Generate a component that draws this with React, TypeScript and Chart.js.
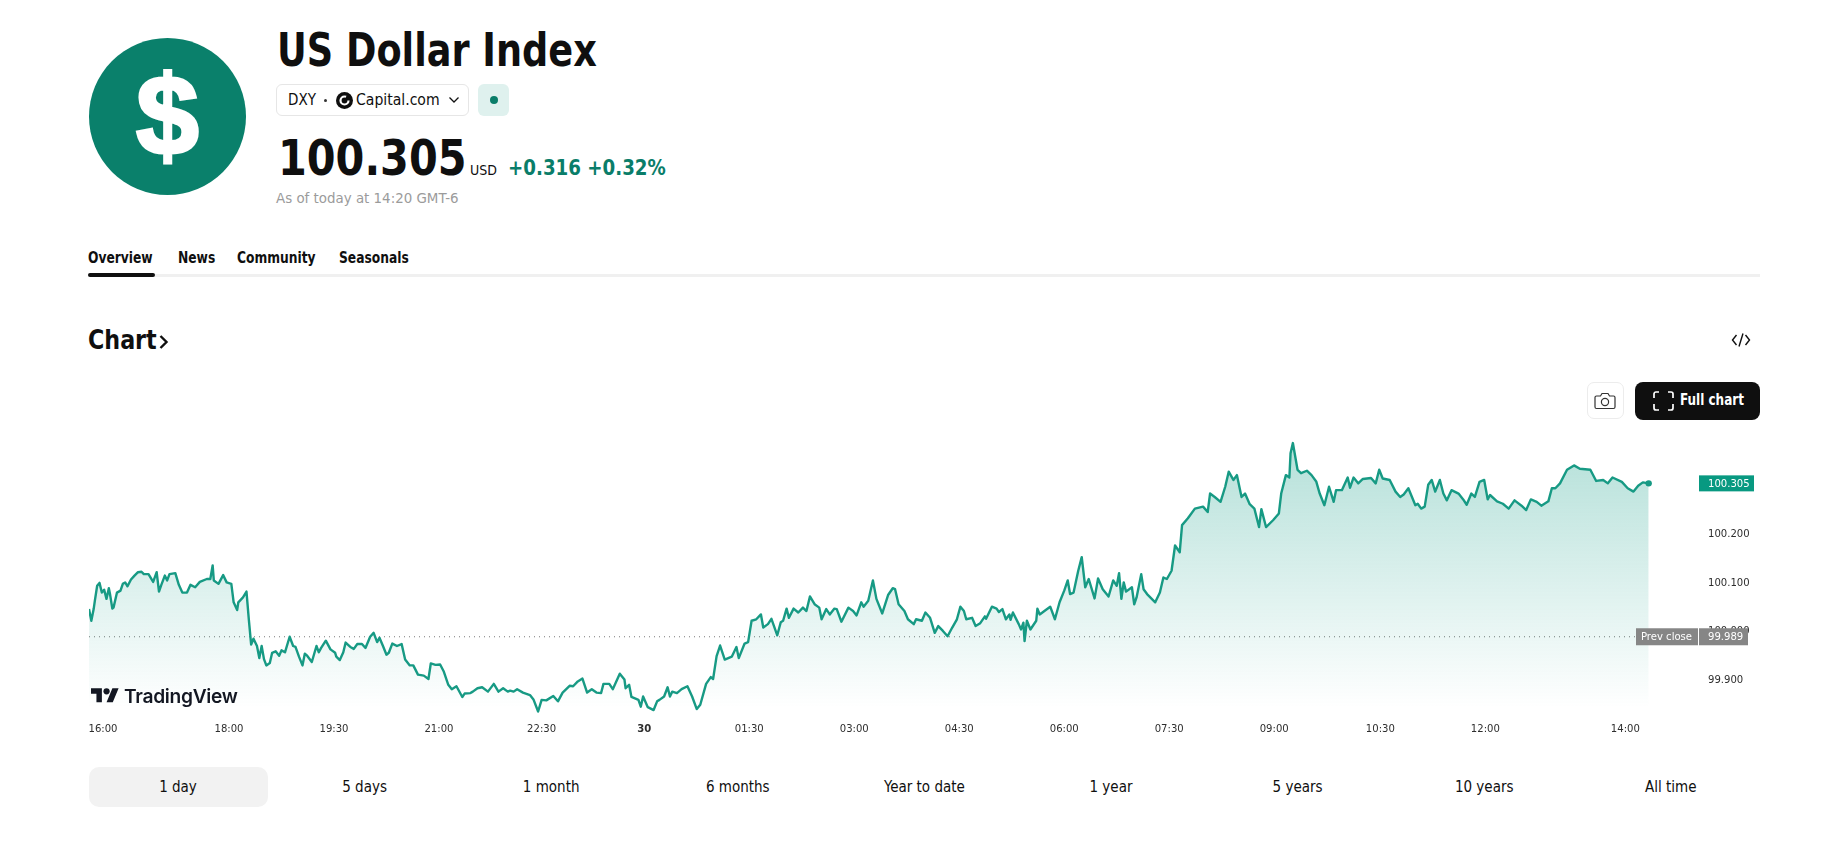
import { useEffect, useRef } from 'react';
import type { CSSProperties } from 'react';
import { Chart, registerables } from 'chart.js';

Chart.register(...registerables);

const FONT = '"DejaVu Sans Condensed", "DejaVu Sans", sans-serif';
const GREEN = '#089981';
const LINE_GREEN = '#179a84';

// minutes since the 16:00 open
const minutes = [
  0, 2, 4, 5, 7, 9, 11, 13, 15, 17, 18, 20, 21, 24, 27, 29, 31, 33, 36, 39, 42, 45, 47, 51, 55, 58, 60, 62, 65, 67,
  69, 74, 77, 80, 84, 87, 91, 95, 101, 104, 106, 107, 111, 115, 118, 122, 124, 127, 128, 132, 135, 137, 139, 141, 144, 146, 148, 150, 152, 155,
  157, 160, 163, 165, 168, 172, 175, 177, 180, 183, 185, 187, 191, 195, 197, 199, 203, 207, 211, 212, 215, 218, 220, 224, 227, 230, 234, 237, 241, 244,
  247, 249, 252, 255, 257, 260, 264, 268, 271, 275, 278, 282, 287, 291, 293, 297, 301, 304, 308, 311, 315, 320, 322, 327, 329, 333, 337, 342, 347, 351,
  355, 359,
  361, 364, 367, 372, 378, 381, 385, 388, 392, 398, 402, 406, 412, 415, 419, 423, 427, 431, 435, 439, 441, 446, 449, 455, 459, 460, 463, 465, 471, 473,
  475, 479, 484, 487, 489, 493, 496, 498, 500, 504, 508, 513, 517, 521, 524, 529, 533, 535, 538, 541, 545, 551, 555, 557, 562, 565, 568, 572, 576, 578,
  582, 585, 590, 593, 595, 598, 600, 604, 608, 612, 615, 618, 622, 626, 628, 632, 635, 639, 641, 645, 651, 655, 658, 662, 664, 668, 672, 675, 680, 685,
  689, 691, 694, 699, 702, 707, 709, 714, 717, 721, 725, 728, 732, 736,
  740, 744, 747, 750, 752, 757, 760, 764, 768, 769, 774, 778, 780, 783, 786, 789, 790, 792, 797, 799, 801, 802, 804, 807, 812, 813, 815, 819, 824, 828,
  832, 836, 839, 841, 844, 848, 851, 854, 857, 862, 865, 869, 874, 878, 881, 883, 885, 887, 889, 894, 896, 898, 902, 904, 907, 914, 918, 921, 924, 928,
  931, 935, 937, 942, 948, 955, 959, 961, 965, 970, 974, 977, 981, 984, 988, 991, 995, 999, 1003, 1005, 1009, 1015, 1020, 1022, 1026, 1029, 1030, 1032, 1036, 1039,
  1044, 1048, 1052, 1055, 1059, 1063, 1067, 1069, 1074, 1079, 1081, 1084, 1088, 1092, 1099, 1103, 1106,
  1109, 1115, 1120, 1124, 1127, 1131, 1137, 1139, 1142, 1145, 1148, 1151, 1154, 1158, 1161, 1164, 1168, 1174, 1178, 1181, 1185, 1188, 1192, 1196, 1199, 1201, 1207, 1212, 1217, 1222,
  1228, 1232, 1236, 1241, 1245, 1251, 1254, 1257, 1261, 1267, 1273, 1278, 1287, 1292, 1298, 1302, 1306, 1314, 1319, 1324, 1328, 1332, 1337,
];

const prices = [
  100.046, 100.022, 100.046, 100.063, 100.094, 100.1, 100.08, 100.086, 100.067, 100.089, 100.077, 100.047, 100.049, 100.08, 100.084, 100.098, 100.101, 100.093, 100.107, 100.115, 100.122, 100.123, 100.118, 100.118, 100.102, 100.122, 100.082, 100.096, 100.115, 100.105,
  100.118, 100.12, 100.096, 100.08, 100.08, 100.096, 100.091, 100.102, 100.108, 100.108, 100.136, 100.105, 100.098, 100.116, 100.101, 100.098, 100.06, 100.044, 100.06, 100.07, 100.082, 100.025, 99.973, 99.985, 99.97, 99.945, 99.97, 99.943, 99.93, 99.935,
  99.956, 99.959, 99.95, 99.961, 99.957, 99.989, 99.97, 99.968, 99.948, 99.93, 99.954, 99.95, 99.937, 99.97, 99.957, 99.966, 99.981, 99.963, 99.956, 99.948, 99.941, 99.957, 99.977, 99.968, 99.964, 99.974, 99.974, 99.966, 99.989, 99.997,
  99.978, 99.987, 99.97, 99.952, 99.956, 99.975, 99.97, 99.974, 99.942, 99.93, 99.93, 99.911, 99.909, 99.902, 99.934, 99.931, 99.932, 99.918, 99.89, 99.881, 99.887, 99.865, 99.872, 99.873, 99.876, 99.883, 99.885, 99.876, 99.892, 99.876,
  99.883, 99.876,
  99.878, 99.876, 99.881, 99.874, 99.869, 99.86, 99.835, 99.859, 99.858, 99.867, 99.856, 99.874, 99.888, 99.887, 99.897, 99.903, 99.874, 99.881, 99.874, 99.873, 99.892, 99.892, 99.881, 99.913, 99.901, 99.883, 99.89, 99.865, 99.859, 99.845,
  99.866, 99.844, 99.838, 99.856, 99.859, 99.866, 99.885, 99.866, 99.876, 99.873, 99.881, 99.887, 99.866, 99.84, 99.849, 99.892, 99.906, 99.902, 99.949, 99.971, 99.942, 99.948, 99.968, 99.945, 99.975, 99.978, 100.022, 100.025, 100.035, 100.008,
  100.015, 100.026, 99.992, 100.019, 100.022, 100.047, 100.028, 100.047, 100.039, 100.049, 100.042, 100.072, 100.056, 100.049, 100.025, 100.046, 100.035, 100.047, 100.046, 100.02, 100.049, 100.042, 100.033, 100.06, 100.051, 100.063, 100.105, 100.067, 100.037, 100.075,
  100.089, 100.087, 100.056, 100.042, 100.025, 100.015, 100.025, 100.022, 100.039, 100.028, 99.997, 100.011, 100.001, 99.99,
  100.008, 100.025, 100.051, 100.042, 100.025, 100.028, 100.011, 100.017, 100.031, 100.026, 100.051, 100.047, 100.04, 100.046, 100.025, 100.035, 100.024, 100.039, 100.015, 100.004, 100.018, 99.98, 100.022, 100.004, 100.022, 100.047, 100.035, 100.042, 100.051, 100.025,
  100.06, 100.084, 100.105, 100.077, 100.08, 100.125, 100.153, 100.091, 100.108, 100.068, 100.109, 100.087, 100.072, 100.105, 100.094, 100.12, 100.067, 100.101, 100.082, 100.091, 100.056, 100.07, 100.118, 100.087, 100.077, 100.06, 100.08, 100.111, 100.108, 100.125,
  100.177, 100.163, 100.219, 100.233, 100.253, 100.257, 100.246, 100.284, 100.277, 100.267, 100.298, 100.329, 100.312, 100.322, 100.277, 100.284, 100.262, 100.253, 100.215, 100.252, 100.215, 100.229, 100.243, 100.284, 100.322, 100.317, 100.367, 100.388, 100.333, 100.326,
  100.331, 100.322, 100.309, 100.284, 100.26, 100.298, 100.267, 100.291, 100.291, 100.317, 100.296, 100.317, 100.305, 100.314, 100.316, 100.305, 100.333,
  100.315, 100.312, 100.288, 100.277, 100.282, 100.295, 100.26, 100.263, 100.253, 100.257, 100.302, 100.312, 100.288, 100.312, 100.284, 100.27, 100.291, 100.284, 100.272, 100.261, 100.284, 100.277, 100.308, 100.312, 100.272, 100.281, 100.268, 100.263, 100.253, 100.27,
  100.259, 100.25, 100.272, 100.267, 100.259, 100.268, 100.295, 100.295, 100.305, 100.333, 100.342, 100.335, 100.333, 100.31, 100.312, 100.305, 100.317, 100.308, 100.295, 100.288, 100.3, 100.307, 100.305,
];

const tickMinutes = [12, 120, 210, 300, 388, 476, 566, 656, 746, 836, 926, 1016, 1107, 1197, 1317];
const tickLabels = ['16:00', '18:00', '19:30', '21:00', '22:30', '30', '01:30', '03:00', '04:30', '06:00', '07:30', '09:00', '10:30', '12:00', '14:00'];
const priceTicks = [99.9, 100, 100.1, 100.2];
const prevClose = 99.989;
const lastPrice = 100.305;
const ranges = ['1 day', '5 days', '1 month', '6 months', 'Year to date', '1 year', '5 years', '10 years', 'All time'];
const tabs = ['Overview', 'News', 'Community', 'Seasonals'];

// price tags on top of the axis
const priceTags = {
  id: 'priceTags',
  afterDraw(chart: any) {
    const { ctx, scales } = chart;
    const tag = (x: number, w: number, y: number, h: number, bg: string, text: string, tx: number) => {
      ctx.fillStyle = bg;
      ctx.fillRect(x, y - h / 2, w, h);
      ctx.fillStyle = '#fff';
      ctx.font = `11.2px ${FONT}`;
      ctx.textAlign = 'left';
      ctx.textBaseline = 'middle';
      ctx.fillText(text, tx, y + 0.5);
    };
    const right = scales.x.right;
    tag(right - 1, 55, scales.y.getPixelForValue(lastPrice), 16, GREEN, lastPrice.toFixed(3), right + 8);
    const py = scales.y.getPixelForValue(prevClose);
    tag(right - 64, 62, py, 17, '#868686', 'Prev close', right - 59);
    tag(right - 1, 49, py, 17, '#868686', prevClose.toFixed(3), right + 8);
  },
};

function PriceChart() {
  const chartRef = useRef<HTMLCanvasElement>(null);

  useEffect(() => {
    if (!chartRef.current) return;
    const chart = new Chart(chartRef.current, {
      type: 'line',
      data: {
        datasets: [
          {
            data: minutes.map((m, i) => ({ x: m, y: prices[i] })),
            borderColor: LINE_GREEN,
            borderWidth: 2.4,
            borderJoinStyle: 'round',
            tension: 0,
            fill: 'start',
            backgroundColor: (c: any) => {
              const { ctx, scales, chartArea } = c.chart;
              if (!chartArea) return 'transparent';
              const g = ctx.createLinearGradient(0, scales.y.getPixelForValue(100.39), 0, scales.y.getPixelForValue(99.842));
              g.addColorStop(0, 'rgba(8,153,129,0.3)');
              g.addColorStop(1, 'rgba(8,153,129,0)');
              return g;
            },
            pointRadius: (c: any) => (c.dataIndex === minutes.length - 1 ? 3.2 : 0),
            pointBackgroundColor: LINE_GREEN,
            pointBorderWidth: 0,
          },
          {
            data: [
              { x: 0, y: prevClose },
              { x: minutes[minutes.length - 1], y: prevClose },
            ],
            borderColor: '#7a7a7a',
            borderWidth: 1,
            borderDash: [1, 4],
            pointRadius: 0,
            fill: false,
          },
        ],
      } as any,
      options: {
        animation: false,
        responsive: false,
        layout: { padding: { left: 89, top: 5.3, right: 0, bottom: 0 } },
        plugins: { legend: { display: false }, tooltip: { enabled: false } },
        scales: {
          x: {
            type: 'linear',
            min: 0,
            max: 1381,
            grid: { display: false, drawTicks: false },
            border: { display: false },
            afterBuildTicks: (axis: any) => {
              axis.ticks = tickMinutes.map((value) => ({ value }));
            },
            afterFit: (axis: any) => {
              axis.height = 36;
            },
            ticks: {
              autoSkip: false,
              maxRotation: 0,
              padding: 8,
              color: '#2e2e2e',
              font: (c: any) => ({ family: FONT, size: 11.2, weight: c.index === 5 ? 'bold' : 'normal' }),
              callback: (_v: any, i: number) => tickLabels[i],
            },
          },
          y: {
            position: 'right',
            min: 99.8299,
            max: 100.4052,
            grid: { display: false, drawTicks: false },
            border: { display: false },
            afterBuildTicks: (axis: any) => {
              axis.ticks = priceTicks.map((value) => ({ value }));
            },
            afterFit: (axis: any) => {
              axis.width = 136;
            },
            ticks: {
              padding: 8,
              crossAlign: 'near',
              color: '#2e2e2e',
              font: { family: FONT, size: 11.2 },
              callback: (v: any) => Number(v).toFixed(3),
            },
          },
        },
      } as any,
      plugins: [priceTags],
    });
    return () => chart.destroy();
  }, []);

  return <canvas ref={chartRef} width={1836} height={330} style={{ position: 'absolute', left: 0, top: 420, display: 'block' }} />;
}

const abs = (left: number, top: number, extra: CSSProperties = {}): CSSProperties => ({ position: 'absolute', left, top, whiteSpace: 'nowrap', ...extra });
// the page font is narrower than anything installed
const squeeze = (sx: number): CSSProperties => ({ transform: `scaleX(${sx})`, transformOrigin: 'left center' });

export default function App() {
  const tabX = [88, 178, 237, 339];
  return (
    <div style={{ position: 'fixed', inset: 0, width: 1836, height: 867, background: '#fff', fontFamily: FONT, color: '#0f0f0f', overflow: 'hidden' }}>
      <div style={abs(89, 38, { width: 157, height: 157, borderRadius: '50%', background: '#0a806b', color: '#fff', textAlign: 'center', fontFamily: '"Liberation Sans", sans-serif', fontWeight: 700, fontSize: 113, lineHeight: '157px', WebkitTextStroke: '3px #fff' })}>$</div>
      <div style={abs(277, 20, { fontSize: 46, fontWeight: 700, lineHeight: '60px', ...squeeze(0.886) })}>US Dollar Index</div>

      <div style={abs(276, 84, { width: 193, height: 32, boxSizing: 'border-box', border: '1px solid #e6e6e6', borderRadius: 6 })} />
      <div style={abs(288, 90, { fontSize: 15, lineHeight: '20px' })}>DXY</div>
      <div style={abs(324, 99, { width: 3, height: 3, borderRadius: '50%', background: '#333' })} />
      <svg style={abs(336, 92)} width={17} height={17} viewBox="0 0 17 17">
        <circle cx={8.5} cy={8.5} r={8.5} fill="#0f0f0f" />
        <circle cx={8.5} cy={8.5} r={4} fill="none" stroke="#fff" strokeWidth={2.2} strokeDasharray="20 5" />
      </svg>
      <div style={abs(356, 90, { fontSize: 15.6, lineHeight: '20px' })}>Capital.com</div>
      <svg style={abs(448, 96)} width={12} height={8} viewBox="0 0 12 8">
        <path d="M1.5 1.5 6 6l4.5-4.5" fill="none" stroke="#111" strokeWidth={1.3} />
      </svg>
      <div style={abs(478, 84, { width: 31, height: 32, borderRadius: 6, background: '#dff1ee' })} />
      <div style={abs(490, 96, { width: 8, height: 8, borderRadius: '50%', background: '#0a7d69' })} />

      <div style={abs(278, 128, { fontSize: 50, fontWeight: 700, lineHeight: '60px', ...squeeze(0.92) })}>100.305</div>
      <div style={abs(470, 161, { fontSize: 14, lineHeight: '18px' })}>USD</div>
      <div style={abs(508, 154, { fontSize: 21, fontWeight: 700, lineHeight: '28px', color: '#0a7d69', ...squeeze(0.965) })}>+0.316 +0.32%</div>
      <div style={abs(276, 188, { fontSize: 14.9, lineHeight: '20px', color: '#9b9b9b' })}>As of today at 14:20 GMT-6</div>

      {tabs.map((t, i) => (
        <div key={t} style={abs(tabX[i], 248, { fontSize: 15, fontWeight: 700, lineHeight: '20px', ...squeeze(0.91) })}>{t}</div>
      ))}
      <div style={abs(88, 274, { width: 1672, height: 3, background: '#f0f0f0' })} />
      <div style={abs(88, 273, { width: 67, height: 4, borderRadius: 2, background: '#0f0f0f' })} />

      <div style={abs(88, 322, { fontSize: 26, fontWeight: 700, lineHeight: '36px', ...squeeze(0.95) })}>Chart</div>
      <svg style={abs(158, 334)} width={12} height={16} viewBox="0 0 12 16">
        <path d="M2.5 2 8.5 8l-6 6" fill="none" stroke="#0f0f0f" strokeWidth={2.4} />
      </svg>
      <svg style={abs(1731, 332)} width={20} height={16} viewBox="0 0 20 16">
        <path d="M5.5 3 1.5 8l4 5M14.5 3l4 5-4 5M12 1.5 8 14.5" fill="none" stroke="#0f0f0f" strokeWidth={1.4} />
      </svg>

      <div style={abs(1587, 382, { width: 37, height: 37, boxSizing: 'border-box', border: '1px solid #ececec', borderRadius: 7 })} />
      <svg style={abs(1594, 392)} width={22} height={18} viewBox="0 0 22 18">
        <path d="M2.5 4h4l1.5-2.5h6L15.500 4h4a1.500 1.500 0 0 1 1.500 1.500v9.500a1.500 1.500 0 0 1-1.500 1.500h-17A1.500 1.500 0 0 1 1 15V5.500A1.500 1.500 0 0 1 2.500 4z" fill="none" stroke="#333" strokeWidth={1.2} />
        <circle cx={11} cy={10} r={3.6} fill="none" stroke="#333" strokeWidth={1.2} />
      </svg>
      <div style={abs(1635, 382, { width: 125, height: 38, borderRadius: 8, background: '#0f0f0f' })} />
      <svg style={abs(1653, 391)} width={21} height={20} viewBox="0 0 21 20">
        <path d="M1 7V3a2 2 0 0 1 2-2h3M15 1h3a2 2 0 0 1 2 2v4M20 13v4a2 2 0 0 1-2 2h-3M6 19H3a2 2 0 0 1-2-2v-4" fill="none" stroke="#fff" strokeWidth={1.7} />
      </svg>
      <div style={abs(1680, 390, { fontSize: 15, fontWeight: 700, lineHeight: '20px', color: '#fff', ...squeeze(0.89) })}>Full chart</div>

      <PriceChart />

      <svg style={abs(91, 685)} width={28} height={22} viewBox="0 0 36 28">
        <path d="M14 22H7V11H0V4h14v18zM28 22h-8l7.5-18h8L28 22z" fill="#131722" />
        <circle cx={20} cy={8} r={4} fill="#131722" />
      </svg>
      <div style={abs(124, 683, { fontFamily: 'Inter, sans-serif', fontSize: 19.2, fontWeight: 600, lineHeight: '26px', color: '#131722', letterSpacing: -0.3 })}>TradingView</div>

      <div style={abs(89, 767, { width: 179, height: 40, borderRadius: 10, background: '#f2f2f2' })} />
      {ranges.map((r, i) => (
        <div key={r} style={abs(178 + i * 186.6 - 90, 777, { width: 180, textAlign: 'center', fontSize: 15, lineHeight: '20px' })}>{r}</div>
      ))}
    </div>
  );
}
